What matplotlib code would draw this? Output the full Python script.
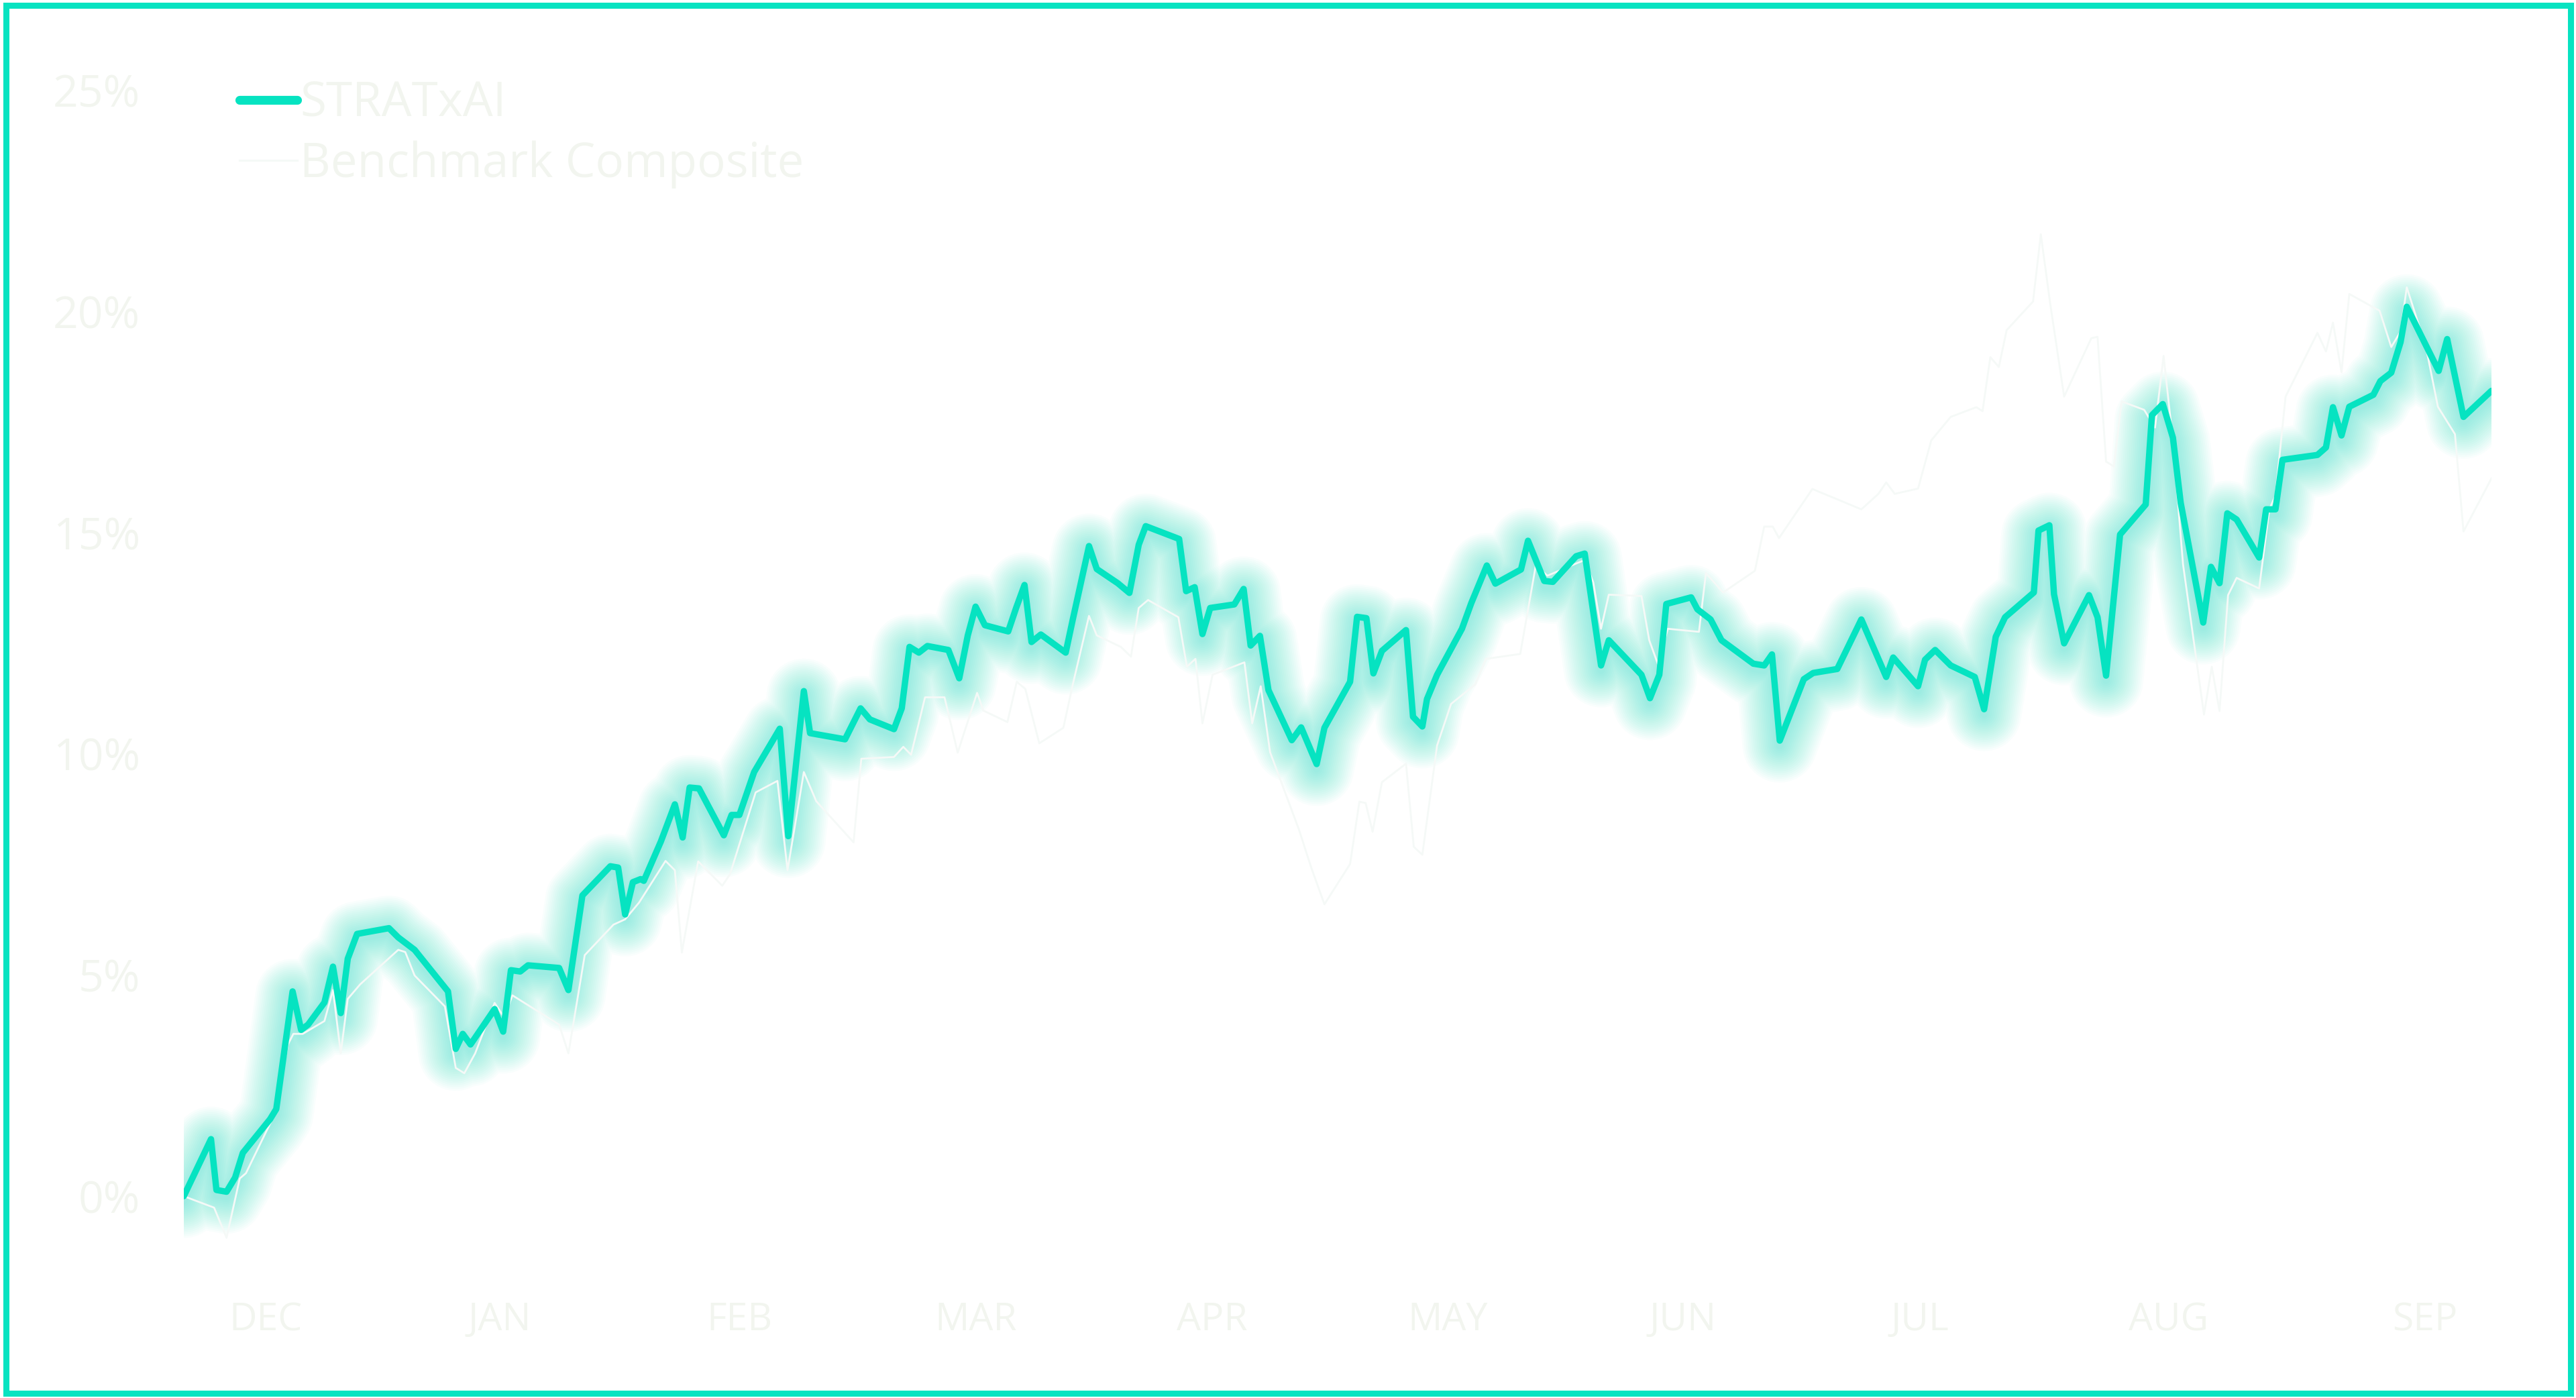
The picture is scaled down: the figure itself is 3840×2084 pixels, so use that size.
import matplotlib
matplotlib.use('Agg')
import matplotlib.pyplot as plt
from matplotlib.lines import Line2D
from matplotlib.patches import Rectangle
from matplotlib.transforms import ScaledTranslation

plt.rcParams['font.family'] = ['Open Sans', 'DejaVu Sans']

# cumulative return in %, x = calendar days from the start
strat_day = [0, 3.5, 4.2, 5.5, 6.6, 7.6, 11.1, 11.9, 14.0, 15.1, 16.0, 18.1, 19.2, 20.2, 21.1, 22.3,
             26.4, 27.6, 29.7, 34.0, 35.0, 35.9, 36.9, 40.0, 41.1, 42.1, 43.3, 44.3, 48.3, 49.5,
             51.3, 54.9, 55.9, 56.8, 57.8, 58.8, 59.2, 61.4, 63.2, 64.2, 65.1, 66.3, 69.5, 70.5,
             71.5, 73.4, 76.7, 77.8, 79.8, 80.6, 85.1, 87.1, 88.3, 91.4, 92.4, 93.4, 94.6, 95.7,
             98.4, 99.8, 100.9, 101.9, 103.1, 106.1, 107.1, 108.2, 109.1, 110.3, 113.5, 114.4,
             116.5, 117.5, 120.2, 121.7, 122.9, 123.8, 128.1, 129.0, 130.1, 131.1, 132.1, 135.2,
             136.4, 137.3, 138.5, 139.6, 142.6, 143.8, 144.5, 145.8, 146.8, 150.1, 151.0, 152.2,
             153.1, 154.2, 157.3, 158.2, 159.4, 160.0, 161.3, 164.5, 165.7, 167.7, 168.8, 172.1,
             173.0, 175.1, 176.2, 179.2, 180.3, 182.4, 183.4, 187.6, 188.7, 189.9, 190.8, 194.0,
             194.8, 196.5, 197.9, 202.0, 203.4, 204.4, 205.4, 208.5, 209.7, 212.8, 215.9, 217.5,
             219.1, 220.0, 223.2, 224.1, 225.4, 227.4, 230.5, 231.7, 233.2, 234.4, 238.1, 238.7,
             240.1, 240.7, 242.0, 245.2, 246.3, 247.4, 249.2, 252.5, 253.3, 254.7, 256.0, 257.0,
             259.9, 260.9, 262.0, 263.0, 264.2, 267.1, 268.0, 269.2, 270.1, 274.6, 275.7, 276.6,
             277.7, 278.7, 281.8, 282.7, 284.1, 285.3, 286.1, 290.2, 291.3, 293.4, 297.0]
strat_ret = [0.0, 1.29, 0.14, 0.10, 0.42, 0.98, 1.74, 1.97, 4.63, 3.76, 3.88, 4.38, 5.19, 4.14, 5.37, 5.93,
             6.06, 5.85, 5.57, 4.63, 3.33, 3.67, 3.43, 4.23, 3.72, 5.11, 5.08, 5.22, 5.16, 4.66,
             6.80, 7.46, 7.43, 6.37, 7.10, 7.17, 7.13, 8.02, 8.86, 8.11, 9.24, 9.22, 8.16, 8.62,
             8.62, 9.59, 10.57, 8.14, 11.42, 10.47, 10.33, 11.03, 10.78, 10.56, 11.03, 12.42, 12.29, 12.44,
             12.35, 11.71, 12.68, 13.33, 12.91, 12.77, 13.29, 13.82, 12.53, 12.70, 12.29, 13.03,
             14.70, 14.18, 13.86, 13.64, 14.73, 15.15, 14.86, 13.68, 13.77, 12.71, 13.30, 13.38,
             13.73, 12.45, 12.67, 11.44, 10.31, 10.60, 10.31, 9.77, 10.59, 11.63, 13.10, 13.07,
             11.82, 12.33, 12.80, 10.84, 10.62, 11.24, 11.79, 12.83, 13.41, 14.26, 13.85, 14.17,
             14.82, 13.91, 13.89, 14.47, 14.53, 12.00, 12.57, 11.79, 11.26, 11.79, 13.39, 13.54,
             13.27, 13.04, 12.57, 12.04, 12.00, 12.25, 10.30, 11.69, 11.83, 11.92, 13.04, 12.39,
             11.74, 12.18, 11.53, 12.13, 12.35, 12.00, 11.74, 11.01, 12.65, 13.09, 13.65, 15.05,
             15.17, 13.61, 12.50, 13.59, 13.09, 11.77, 14.96, 15.64, 17.66, 17.91, 17.15, 15.68,
             12.97, 14.23, 13.86, 15.44, 15.30, 14.44, 15.53, 15.53, 16.65, 16.76, 16.93, 17.84,
             17.20, 17.85, 18.12, 18.43, 18.62, 19.31, 20.11, 18.66, 19.38, 17.62, 18.21]

bench_day = [0, 3.9, 5.5, 7.2, 8.0, 11.6, 13.4, 14.1, 15.3, 18.1, 19.2, 20.2, 21.1, 22.7, 27.6, 28.5,
             29.7, 33.6, 35.0, 36.1, 37.5, 40.0, 41.2, 42.3, 48.3, 49.5, 51.6, 55.3, 56.8, 58.6,
             62.0, 63.2, 64.1, 66.2, 69.3, 70.3, 73.6, 76.4, 77.7, 79.8, 81.4, 86.2, 87.2, 91.4,
             92.6, 93.6, 95.4, 97.9, 99.6, 102.1, 102.9, 106.0, 107.2, 108.3, 110.1, 113.2, 114.4,
             116.5, 117.5, 120.6, 121.9, 122.9, 124.1, 128.0, 129.1, 130.2, 131.1, 132.4, 136.5,
             137.5, 138.6, 139.8, 143.5, 145.1, 146.8, 150.1, 151.3, 152.1, 153.0, 154.2, 157.3,
             158.3, 159.4, 161.3, 163.1, 166.2, 167.6, 172.0, 174.0, 175.5, 179.4, 180.3, 181.4,
             182.4, 183.4, 187.6, 188.6, 189.7, 191.0, 195.0, 195.9, 198.1, 202.2, 203.4, 204.5,
             205.3, 209.6, 215.9, 218.1, 219.1, 220.2, 223.2, 224.9, 227.4, 230.7, 231.5, 232.5,
             233.6, 234.6, 238.0, 239.0, 240.2, 242.0, 245.5, 246.3, 247.4, 248.4, 249.4, 252.3,
             253.7, 254.8, 256.0, 257.3, 260.0, 261.0, 262.0, 263.1, 264.2, 267.1, 268.4, 269.2,
             270.5, 274.6, 275.7, 276.6, 277.7, 278.7, 282.6, 284.1, 285.3, 286.1, 288.6, 290.1,
             292.3, 293.4, 297.0]
bench_ret = [0.0, -0.26, -0.94, 0.40, 0.52, 1.82, 3.43, 3.67, 3.67, 3.96, 4.66, 3.23, 4.46, 4.79, 5.57, 5.52,
             4.99, 4.29, 2.90, 2.78, 3.23, 4.37, 4.05, 4.54, 3.88, 3.23, 5.45, 6.14, 6.26, 6.64,
             7.58, 7.37, 5.51, 7.57, 7.02, 7.28, 9.13, 9.39, 7.37, 9.59, 8.93, 8.00, 9.89, 9.93,
             10.16, 9.98, 11.28, 11.28, 10.03, 11.38, 10.98, 10.72, 11.63, 11.47, 10.24, 10.59, 11.56,
             13.12, 12.68, 12.42, 12.20, 13.30, 13.48, 13.09, 11.97, 12.15, 10.69, 11.79, 12.07,
             10.69, 11.53, 10.04, 8.30, 7.43, 6.60, 7.51, 8.92, 8.89, 8.24, 9.36, 9.78,
             7.90, 7.72, 10.19, 11.13, 11.57, 12.15, 12.26, 14.26, 14.03, 14.32, 14.38, 13.88,
             12.83, 13.60, 13.57, 12.57, 12.04, 12.83, 12.76, 14.09, 13.65, 14.14, 15.14, 15.14,
             14.88, 15.99, 15.53, 15.88, 16.14, 15.88, 16.00, 17.09, 17.62, 17.84, 17.75, 18.97,
             18.75, 19.58, 20.23, 21.75, 20.19, 18.08, 19.40, 19.43, 16.61, 16.50, 17.97, 17.78,
             17.38, 19.00, 17.08, 14.29, 10.89, 11.97, 10.97, 13.59, 13.98, 13.74, 15.53, 15.84,
             18.08, 19.52, 19.10, 19.75, 18.63, 20.40, 20.02, 19.20, 19.55, 20.55, 19.17, 17.85,
             17.23, 15.03, 16.23]

month_day = [10.5, 40.6, 71.5, 101.9, 132.3, 162.7, 192.9, 223.4, 255.4, 288.4]
month_lab = ['DEC', 'JAN', 'FEB', 'MAR', 'APR', 'MAY', 'JUN', 'JUL', 'AUG', 'SEP']
pct_ticks = [0, 5, 10, 15, 20, 25]

teal = '#06e3c1'
faint = '#f2f5ef'
bench_col = '#f5f9f7'

W, H = 3840, 2084
fig = plt.figure(figsize=(W / 100, H / 100), dpi=100)
fig.patch.set_facecolor('white')
ax = fig.add_axes([274 / W, (H - 1915) / H, (3714 - 274) / W, (1915 - 69) / H])
ax.set_facecolor('white')

# soft glow under the strategy line, nudged a little downwards
glow_tr = ax.transData + ScaledTranslation(0, -7 / 100, fig.dpi_scale_trans)
for w in range(8, 84, 4):
    ax.plot(strat_day, strat_ret, color=teal, lw=w, alpha=0.024, transform=glow_tr,
            solid_joinstyle='round', solid_capstyle='round', zorder=1)

ax.plot(bench_day, bench_ret, color=bench_col, lw=2.0, zorder=2)
ax.plot(strat_day, strat_ret, color=teal, lw=6.8, zorder=3,
        solid_joinstyle='round', solid_capstyle='round')

ax.set_xlim(0, 297)
ax.set_ylim(-2, 26)
ax.set_xticks(month_day)
ax.set_xticklabels(month_lab)
ax.set_yticks(pct_ticks)
ax.set_yticklabels([str(v) + '%' for v in pct_ticks])
ax.tick_params(axis='x', length=0, pad=18, labelsize=41, labelcolor=faint)
ax.tick_params(axis='y', length=0, pad=47, labelsize=47.5, labelcolor=faint)
for s in ax.spines.values():
    s.set_visible(False)

handles = [Line2D([], [], color=teal, lw=9.5, solid_capstyle='round'),
           Line2D([], [], color=bench_col, lw=2.2)]
leg = ax.legend(handles, ['STRATxAI', 'Benchmark Composite'], loc='upper left',
                bbox_to_anchor=(357 / W, 1 - 119 / H), bbox_transform=fig.transFigure,
                frameon=False, fontsize=51, handlelength=1.22, handletextpad=0.05,
                labelspacing=0.27, borderpad=0, borderaxespad=0)
for t in leg.get_texts():
    t.set_color(faint)

fig.patches.append(Rectangle((8.5 / W, 7 / H), (W - 17) / W, (H - 15) / H,
                             transform=fig.transFigure, fill=False,
                             edgecolor='#08e3c1', lw=6.5, zorder=10))

fig.savefig('out.png', dpi=100, facecolor='white')
